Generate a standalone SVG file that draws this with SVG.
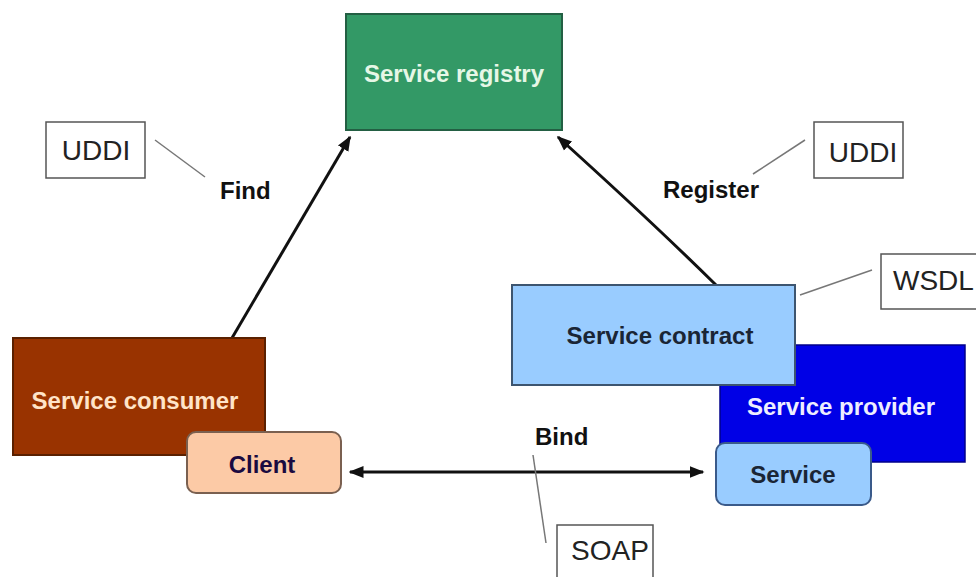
<svg xmlns="http://www.w3.org/2000/svg" width="976" height="577" viewBox="0 0 976 577">
<defs>
<style>
.b{font-family:"Liberation Sans",Arial,sans-serif;font-weight:bold;font-size:24px}
.r{font-family:"Liberation Sans",Arial,sans-serif;font-size:28px;fill:#222}
.note{fill:#fff;stroke:#555;stroke-width:1.5}
.lead{stroke:#777;stroke-width:1.5;fill:none}
.arr{stroke:#111;stroke-width:3;fill:none}
</style>
<marker id="ah" viewBox="0 0 10 10" refX="9" refY="5" markerWidth="5" markerHeight="5" orient="auto-start-reverse" markerUnits="strokeWidth">
<path d="M0,1 L10,5 L0,9 Z" fill="#111"/>
</marker>
</defs>
<rect width="976" height="577" fill="#fff"/>

<g id="connectors">
<path class="arr" d="M232,338 L350,137" marker-end="url(#ah)"/>
<path class="arr" d="M716,285 Q650,220 558,137" marker-end="url(#ah)"/>
<path class="arr" d="M350,472 L703,472" marker-start="url(#ah)" marker-end="url(#ah)"/>
<path class="lead" d="M155,140 L205,177"/>
<path class="lead" d="M753,174 L805,140"/>
<path class="lead" d="M800,295 L872,270"/>
<path class="lead" d="M533,455 L546,543"/>
</g>

<g id="registry">
<rect x="346" y="14" width="216" height="116" fill="#339966" stroke="#235f43" stroke-width="2"/>
<text class="b" x="454" y="82" text-anchor="middle" fill="#e6f7e6">Service registry</text>
</g>

<g id="consumer">
<rect x="13" y="338" width="252" height="117" fill="#993300" stroke="#5a2000" stroke-width="2"/>
<text class="b" x="135" y="409" text-anchor="middle" fill="#ffe4c8">Service consumer</text>
</g>

<g id="client">
<rect x="187" y="432" width="154" height="61" rx="9" fill="#fccaa6" stroke="#7a6050" stroke-width="2"/>
<text class="b" x="262" y="473" text-anchor="middle" fill="#1a0a40">Client</text>
</g>

<g id="provider">
<rect x="720" y="345" width="245" height="117" fill="#0000e6" stroke="#00008a" stroke-width="1.5"/>
<text class="b" x="841" y="415" text-anchor="middle" fill="#eef">Service provider</text>
</g>

<g id="contract">
<rect x="512" y="285" width="283" height="100" fill="#99ccff" stroke="#3d5570" stroke-width="2"/>
<text class="b" x="660" y="344" text-anchor="middle" fill="#1a2535">Service contract</text>
</g>

<g id="service">
<rect x="716" y="443" width="155" height="62" rx="9" fill="#99ccff" stroke="#3a5a8a" stroke-width="2"/>
<text class="b" x="793" y="483" text-anchor="middle" fill="#1a2535">Service</text>
</g>

<g id="uddi-left">
<rect class="note" x="46" y="122" width="99" height="56"/>
<text class="r" x="96" y="160" text-anchor="middle">UDDI</text>
</g>
<g id="uddi-right">
<rect class="note" x="814" y="122" width="89" height="56"/>
<text class="r" x="863" y="162" text-anchor="middle">UDDI</text>
</g>
<g id="wsdl">
<rect class="note" x="881" y="254" width="100" height="55"/>
<text class="r" x="893" y="290">WSDL</text>
</g>
<g id="soap">
<rect class="note" x="557" y="525" width="96" height="60"/>
<text class="r" x="571" y="560">SOAP</text>
</g>

<g id="labels">
<text class="b" x="220" y="199" fill="#111">Find</text>
<text class="b" x="663" y="198" fill="#111">Register</text>
<text class="b" x="535" y="445" fill="#111">Bind</text>
</g>
</svg>
